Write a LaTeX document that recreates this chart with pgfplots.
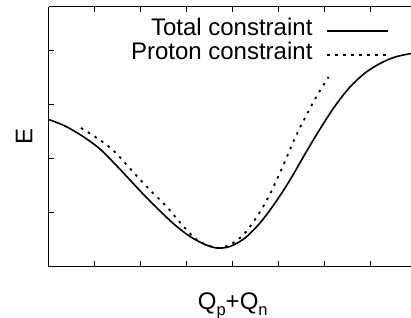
\documentclass[border=0pt]{standalone}
\usepackage{fontspec}
\setmainfont{Liberation Sans}
\usepackage{pgfplots}
\pgfplotsset{compat=1.18}
\newcommand{\bigfnt}{\fontsize{24bp}{28bp}\selectfont}
\newcommand{\sub}[1]{\raisebox{-0.28em}{\fontsize{16.5bp}{16.5bp}\selectfont #1}}
\begin{document}
\begin{tikzpicture}
\begin{axis}[
  name=ax,
  at={(0,0)}, anchor=south west,
  width=362.3bp, height=260bp, scale only axis,
  xmin=0, xmax=7.876, ymin=0, ymax=4.815,
  axis x line=box, axis y line*=left,
  axis line style={line width=1bp, black},
  xtick={1,2,3,4,5,6,7}, ytick={1,2,3,4},
  xticklabels={}, yticklabels={},
  tick align=inside, major tick length=5.5bp,
  tick style={line width=0.8bp, black},
  xlabel={Q\sub{p}+Q\sub{n}}, ylabel={E},
  label style={font=\bigfnt},
  xlabel style={at={(axis description cs:0.508,0)}, anchor=base, yshift=-42.3bp},
  ylabel style={at={(axis description cs:0,0.5)}, anchor=center, yshift=24.5bp},
  legend cell align=right, legend plot pos=right,
  legend image code/.code={\draw[#1] (0bp,0bp) -- (61bp,0bp);},
  legend style={at={(axis description cs:0.940,0.9535)}, anchor=north east,
    draw=none, fill=none, inner sep=0pt, outer sep=0pt,
    row sep=0pt, column sep=14bp, font=\bigfnt,
    nodes={inner sep=0pt, text height=17bp, text depth=7bp}},
]
\addplot[smooth, line width=1.6bp, black] coordinates {
(0,2.726) (0.354,2.606) (0.746,2.411) (1.115,2.180) (1.441,1.902)
(1.767,1.606) (2.093,1.309) (2.420,1.031) (2.746,0.772) (3.072,0.559)
(3.398,0.411) (3.659,0.346) (3.941,0.374) (4.267,0.531) (4.593,0.809)
(4.920,1.179) (5.246,1.606) (5.572,2.087) (5.898,2.550) (6.224,2.976)
(6.550,3.328) (6.876,3.587) (7.202,3.763) (7.528,3.883) (7.876,3.948)
};
\addlegendentry{Total constraint}
\addplot[smooth, line width=1.8bp, black, dash pattern={on 2.5bp off 5.5bp}] coordinates {
(0.702,2.569) (1.115,2.346) (1.441,2.124) (1.833,1.754) (2.202,1.420)
(2.572,1.106) (2.920,0.754) (3.224,0.494) (3.507,0.383) (3.724,0.346)
(4.007,0.439) (4.267,0.624) (4.550,0.957) (4.811,1.346) (5.093,1.865)
(5.354,2.383) (5.615,2.828) (5.854,3.198) (6.083,3.513)
};
\addlegendentry{Proton constraint}
\end{axis}
\pgfresetboundingbox
\useasboundingbox ([xshift=-48.7bp,yshift=-51.3bp]ax.south west) rectangle ([yshift=6.7bp]ax.north east);
\end{tikzpicture}
\end{document}
